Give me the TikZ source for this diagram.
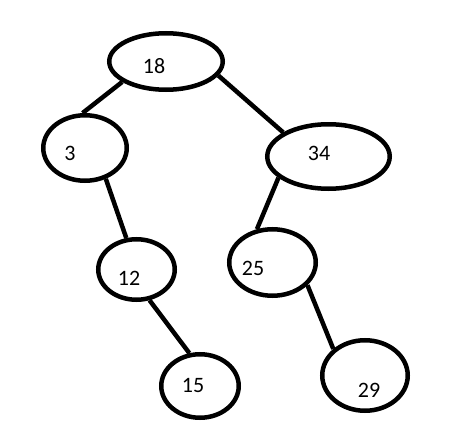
\documentclass[tikz,border=0pt]{standalone}
\usepackage{fontspec}
\setmainfont{Carlito}
\usetikzlibrary{shapes.geometric}

\begin{document}
\begin{tikzpicture}[
  x=1pt, y=-1pt,
  key/.style={ellipse, draw, line width=4.5pt, inner sep=0pt},
  every label/.style={font=\fontsize{22}{26}\selectfont, inner sep=0pt},
  edge/.style={line width=4.5pt},
]
\useasboundingbox (0,0) rectangle (459,447);

\node[key, minimum width=113.5pt, minimum height=56.5pt,
  label={[xshift=-12pt, yshift=-4.5pt]center:18}] (n18) at (166,61.5) {};
\node[key, minimum width=83.5pt, minimum height=65.5pt,
  label={[xshift=-15pt, yshift=-5pt]center:3}] (n3) at (85,148) {};
\node[key, minimum width=122.5pt, minimum height=64.5pt,
  label={[xshift=-9.5pt, yshift=3.5pt]center:34}] (n34) at (328.5,156.5) {};
\node[key, minimum width=76.5pt, minimum height=60.5pt,
  label={[xshift=-7.5pt, yshift=-8.5pt]center:12}] (n12) at (136.5,269.5) {};
\node[key, minimum width=86.5pt, minimum height=66.5pt,
  label={[xshift=-19.5pt, yshift=-5.5pt]center:25}] (n25) at (272.5,262.5) {};
\node[key, minimum width=77.5pt, minimum height=63.5pt,
  label={[xshift=-7pt, yshift=1pt]center:15}] (n15) at (200,386) {};
\node[key, minimum width=85.5pt, minimum height=70.5pt,
  label={[xshift=4pt, yshift=-14.5pt]center:29}] (n29) at (365,375.5) {};

% edges
\draw[edge] (n18.205) -- (n3.94);
\draw[edge] (n18.345) -- (n34.152);
\draw[edge] (n3.304)  -- (n12.108);
\draw[edge] (n34.203) -- (n25.115);
\draw[edge] (n12.293) -- (n15.108);
\draw[edge] (n25.327) -- (n29.140);
\end{tikzpicture}
\end{document}
